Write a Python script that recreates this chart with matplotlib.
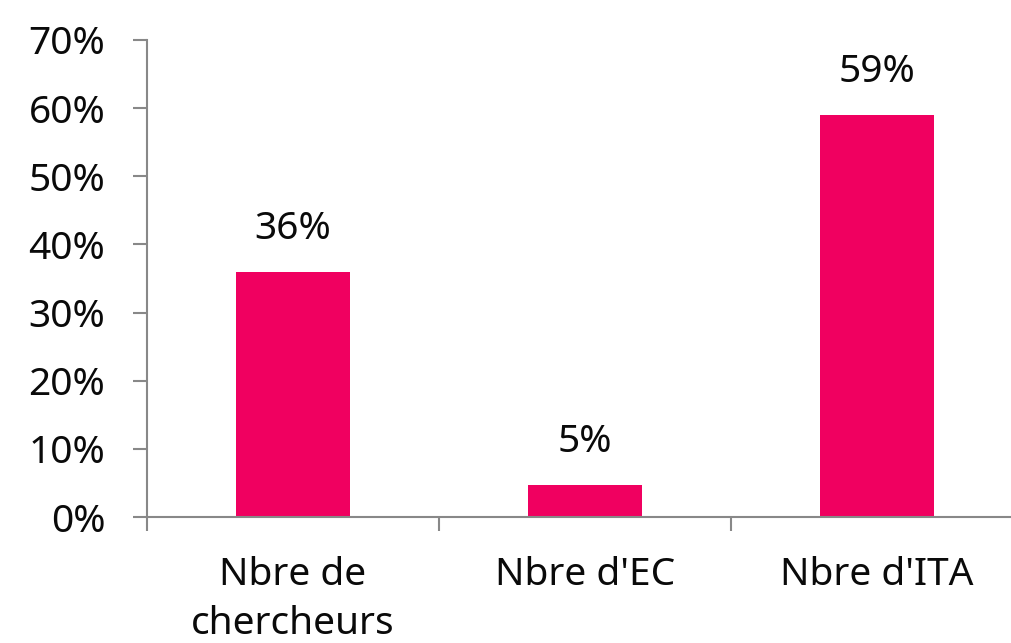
import matplotlib
matplotlib.use("Agg")
import matplotlib.pyplot as plt
from matplotlib.ticker import FixedLocator, NullFormatter

categories = ["Nbre de\nchercheurs", "Nbre d'EC", "Nbre d'ITA"]
values = [0.36, 0.047, 0.59]
value_labels = ["36%", "5%", "59%"]
yticks = [0, 0.1, 0.2, 0.3, 0.4, 0.5, 0.6, 0.7]
ytick_labels = ["0%", "10%", "20%", "30%", "40%", "50%", "60%", "70%"]

plt.rcParams['font.family'] = ['Noto Sans', 'DejaVu Sans']
fig = plt.figure(figsize=(10.11, 6.43), dpi=100)
ax = fig.add_axes([147/1011, 1-517/643, 876/1011, 477/643])

x = list(range(len(categories)))
ax.bar(x, values, width=0.39, color='#F00060', zorder=2)
for xi, v, lab in zip(x, values, value_labels):
    ax.annotate(lab, (xi, v), xytext=(0, 17), textcoords='offset points',
                ha='center', va='bottom', fontsize=28, color='#0a0a0a')

ax.set_xlim(-0.5, 2.5)
ax.set_ylim(0, 0.7)
ax.set_yticks(yticks)
ax.set_yticklabels(ytick_labels, fontsize=28, color='#0a0a0a')

ax.xaxis.set_major_locator(FixedLocator([-0.5, 0.5, 1.5, 2.5]))
ax.xaxis.set_major_formatter(NullFormatter())
ax.set_xticks(x, minor=True)
ax.set_xticklabels(categories, minor=True, fontsize=28, color='#0a0a0a', linespacing=1.4)
ax.tick_params(axis='x', which='minor', length=0, pad=28)
ax.tick_params(axis='x', which='major', length=10, width=1.5, color='#888888', direction='out')
ax.tick_params(axis='y', length=10, width=1.5, color='#888888', direction='out', pad=20)

for s in ['top', 'right']:
    ax.spines[s].set_visible(False)
for s in ['left', 'bottom']:
    ax.spines[s].set_color('#888888')
    ax.spines[s].set_linewidth(1.5)

fig.savefig("out.png", dpi=100)
